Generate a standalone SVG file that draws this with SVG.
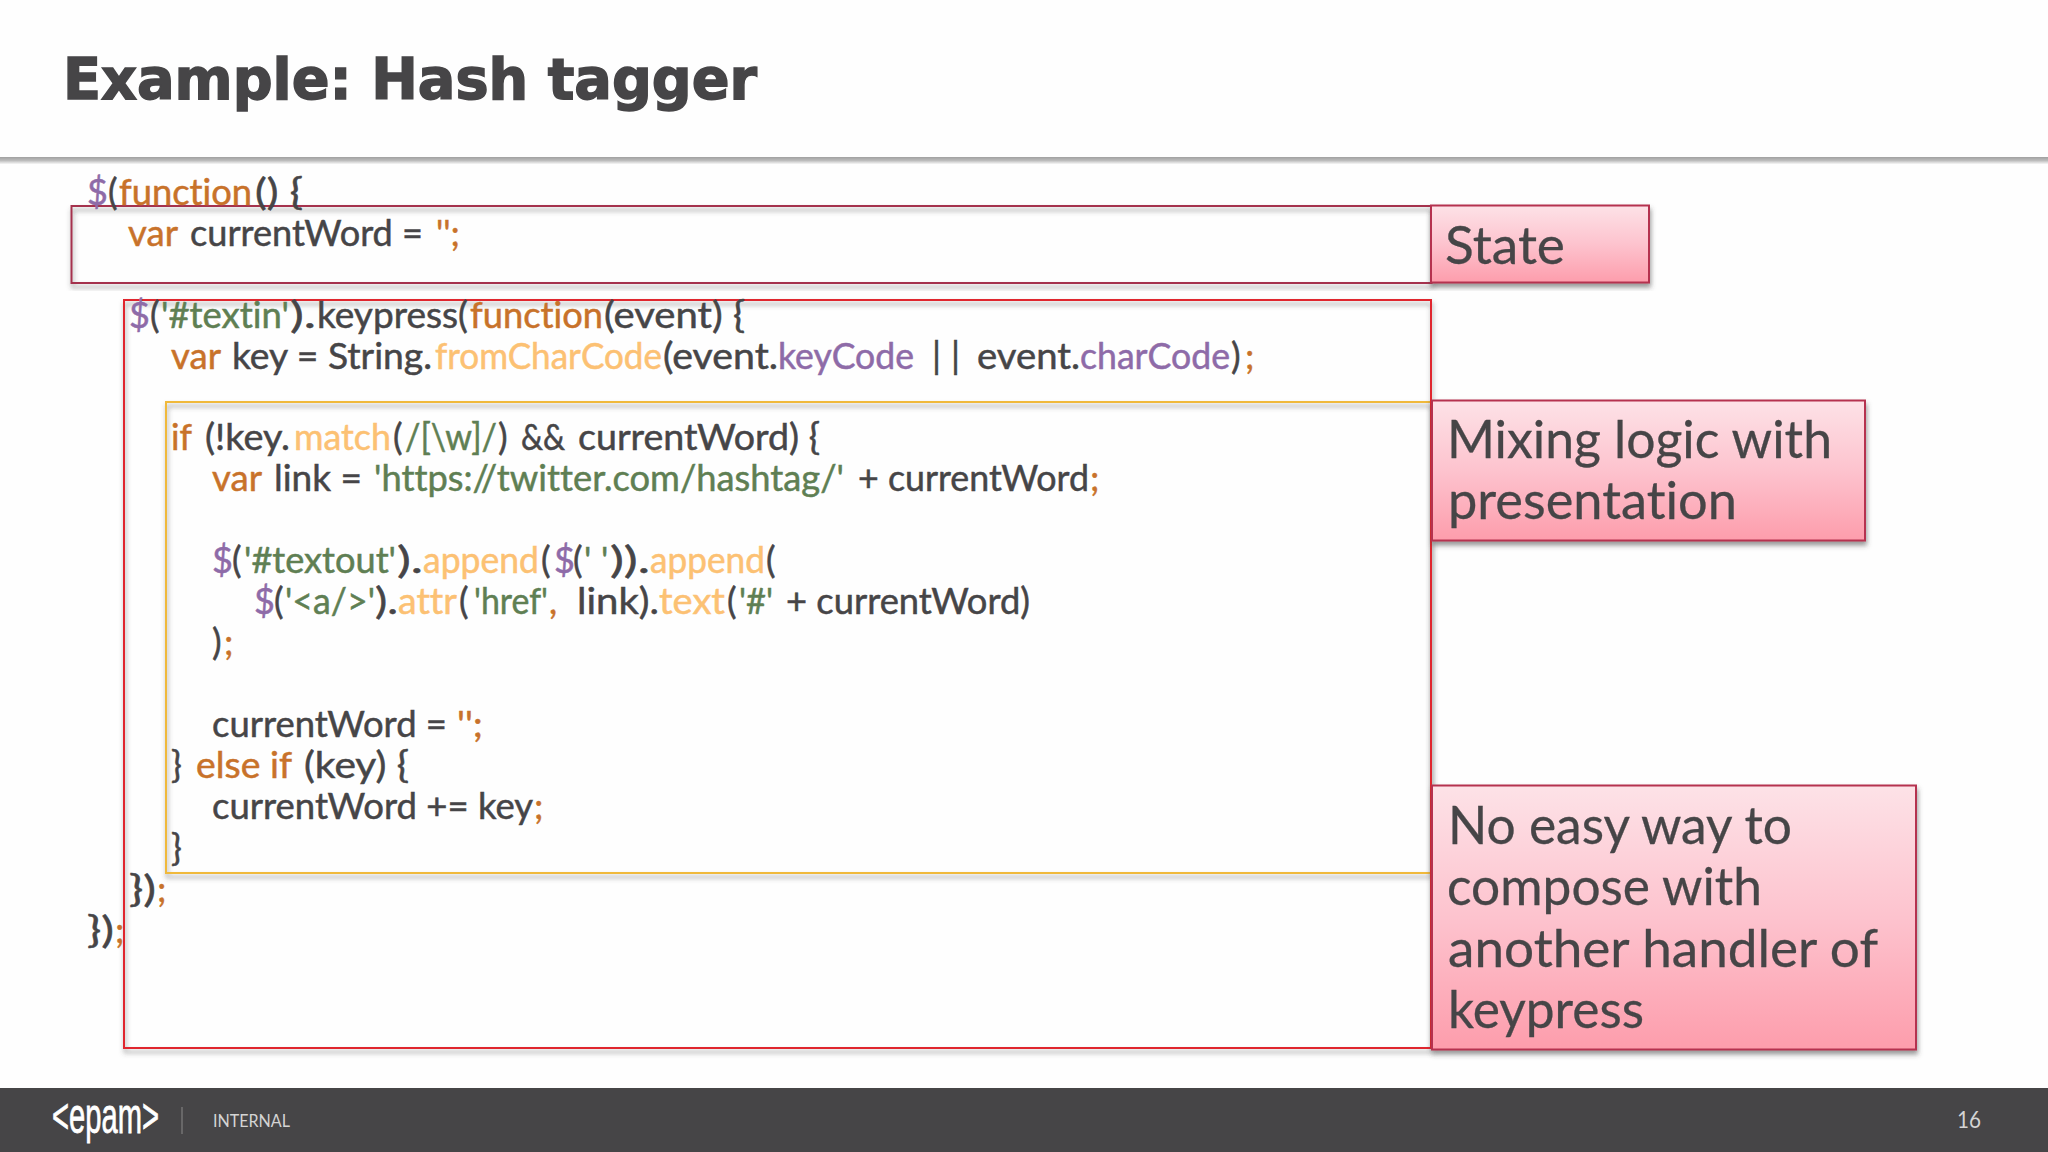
<svg xmlns="http://www.w3.org/2000/svg" width="2048" height="1152" viewBox="0 0 2048 1152">
<style>
text{font-family:"Lato","Noto Sans",sans-serif;fill:#464547;font-variant-ligatures:none}
.c text{font-size:36px;stroke:#464547;stroke-width:.5}
.c .k{fill:#c8722a;stroke:#c8722a}.c .f{fill:#fcc173;stroke:#fcc173}.c .s{fill:#5f7f53;stroke:#5f7f53}.c .p{fill:#8e6ba8;stroke:#8e6ba8}
.l{font-size:53px;stroke:#464547;stroke-width:.3}
.box{fill:none;stroke-width:2;filter:url(#sh)}
.lab{fill:url(#pink);stroke:#b5304f;stroke-width:2;filter:url(#sh)}
</style>
<defs>
<filter id="sh" x="-5%" y="-5%" width="110%" height="115%"><feDropShadow dx="1" dy="4" stdDeviation="2.500" flood-color="#444" flood-opacity=".55"/></filter>
<linearGradient id="pink" x1="0" y1="0" x2="0" y2="1"><stop offset="0" stop-color="#fde2e7"/><stop offset=".5" stop-color="#fdc3ce"/><stop offset="1" stop-color="#fd9dac"/></linearGradient>
<linearGradient id="rule" x1="0" y1="0" x2="0" y2="1"><stop offset="0" stop-color="#a0a0a0"/><stop offset=".5" stop-color="#bcbcbc"/><stop offset="1" stop-color="#f6f6f6"/></linearGradient>
</defs>
<rect width="2048" height="1152" fill="#fefefe"/>
<g id="header">
<rect x="0" y="157" width="2048" height="7" fill="url(#rule)"/>
<text x="63" y="99" font-size="57" font-weight="700" textLength="694" lengthAdjust="spacingAndGlyphs" style="font-family:'DejaVu Sans',sans-serif;stroke:#464547;stroke-width:1.500">Example: Hash tagger</text>
</g>
<g id="box-state"><rect class="box" x="71.500" y="206" width="1360" height="77" stroke="#a5324e"/></g>
<g id="box-logic"><rect class="box" x="166" y="402" width="1265" height="471" stroke="#f0b93a"/></g>
<g id="box-handler"><rect class="box" x="124" y="300" width="1307" height="748" stroke="#e0252d"/></g>
<g id="code" class="c">
<text x="87" y="205" class="p">$</text><text x="108" y="205">(</text><text x="119" y="205" class="k" textLength="133" lengthAdjust="spacingAndGlyphs">function</text><text x="255" y="205" textLength="48" lengthAdjust="spacingAndGlyphs">() {</text>
<text x="128" y="246" class="k" textLength="50" lengthAdjust="spacingAndGlyphs">var</text><text x="190" y="246" textLength="233" lengthAdjust="spacingAndGlyphs">currentWord =</text><text x="436" y="246" class="k" textLength="24" lengthAdjust="spacingAndGlyphs">'';</text>
<text x="129" y="328" class="p">$</text><text x="150" y="328">(</text><text x="161" y="328" class="s" textLength="128" lengthAdjust="spacingAndGlyphs">'#textin'</text><text x="290" y="328" textLength="26" lengthAdjust="spacingAndGlyphs">).</text><text x="317" y="328" textLength="151" lengthAdjust="spacingAndGlyphs">keypress(</text><text x="470" y="328" class="k" textLength="133" lengthAdjust="spacingAndGlyphs">function</text><text x="604" y="328" textLength="141" lengthAdjust="spacingAndGlyphs">(event) {</text>
<text x="171" y="369" class="k" textLength="50" lengthAdjust="spacingAndGlyphs">var</text><text x="232" y="369" textLength="200" lengthAdjust="spacingAndGlyphs">key = String.</text><text x="435" y="369" class="f" textLength="227" lengthAdjust="spacingAndGlyphs">fromCharCode</text><text x="663" y="369" textLength="115" lengthAdjust="spacingAndGlyphs">(event.</text><text x="778" y="369" class="p" textLength="136" lengthAdjust="spacingAndGlyphs">keyCode</text><text x="932" y="369" textLength="28" lengthAdjust="spacing">| |</text><text x="977" y="369" textLength="103" lengthAdjust="spacingAndGlyphs">event.</text><text x="1080" y="369" class="p" textLength="150" lengthAdjust="spacingAndGlyphs">charCode</text><text x="1231" y="369">)</text><text x="1245" y="369" class="k">;</text>
<text x="171" y="450" class="k" textLength="21" lengthAdjust="spacingAndGlyphs">if</text><text x="205" y="450" textLength="85" lengthAdjust="spacingAndGlyphs">(!key.</text><text x="294" y="450" class="f" textLength="97" lengthAdjust="spacingAndGlyphs">match</text><text x="393" y="450">(</text><text x="405" y="450" class="s" textLength="92" lengthAdjust="spacingAndGlyphs">/[\w]/</text><text x="498" y="450">)</text><text x="521" y="450" textLength="44" lengthAdjust="spacingAndGlyphs">&amp;&amp;</text><text x="578" y="450" textLength="242" lengthAdjust="spacingAndGlyphs">currentWord) {</text>
<text x="212" y="491" class="k" textLength="50" lengthAdjust="spacingAndGlyphs">var</text><text x="274" y="491" textLength="88" lengthAdjust="spacingAndGlyphs">link =</text><text x="374" y="491" class="s" textLength="470" lengthAdjust="spacingAndGlyphs">'https://twitter.com/hashtag/'</text><text x="858" y="491" textLength="231" lengthAdjust="spacingAndGlyphs">+ currentWord</text><text x="1090" y="491" class="k">;</text>
<text x="212" y="573" class="p">$</text><text x="232" y="573">(</text><text x="244" y="573" class="s" textLength="152" lengthAdjust="spacingAndGlyphs">'#textout'</text><text x="397" y="573" textLength="26" lengthAdjust="spacingAndGlyphs">).</text><text x="423" y="573" class="f" textLength="116" lengthAdjust="spacingAndGlyphs">append</text><text x="541" y="573">(</text><text x="554" y="573" class="p">$</text><text x="573" y="573">(</text><text x="584" y="573" class="s">'</text><text x="601" y="573" class="s">'</text><text x="610" y="573" textLength="40" lengthAdjust="spacingAndGlyphs">)).</text><text x="650" y="573" class="f" textLength="115" lengthAdjust="spacingAndGlyphs">append</text><text x="766" y="573">(</text>
<text x="254" y="614" class="p">$</text><text x="274" y="614">(</text><text x="285" y="614" class="s" textLength="90" lengthAdjust="spacingAndGlyphs">'&lt;a/&gt;'</text><text x="375" y="614" textLength="23" lengthAdjust="spacingAndGlyphs">).</text><text x="398" y="614" class="f" textLength="59" lengthAdjust="spacingAndGlyphs">attr</text><text x="459" y="614">(</text><text x="474" y="614" class="s" textLength="74" lengthAdjust="spacingAndGlyphs">'href'</text><text x="549" y="614" class="k">,</text><text x="577" y="614" textLength="82" lengthAdjust="spacingAndGlyphs">link).</text><text x="659" y="614" class="f" textLength="66" lengthAdjust="spacingAndGlyphs">text</text><text x="727" y="614">(</text><text x="739" y="614" class="s" textLength="34" lengthAdjust="spacingAndGlyphs">'#'</text><text x="786" y="614" textLength="244" lengthAdjust="spacingAndGlyphs">+ currentWord)</text>
<text x="212" y="655">)</text><text x="224" y="655" class="k">;</text>
<text x="212" y="737" textLength="235" lengthAdjust="spacingAndGlyphs">currentWord =</text><text x="457" y="737" class="k" textLength="26" lengthAdjust="spacingAndGlyphs">'';</text>
<text x="171" y="778">}</text><text x="196" y="778" class="k" textLength="96" lengthAdjust="spacingAndGlyphs">else if</text><text x="304" y="778" textLength="105" lengthAdjust="spacingAndGlyphs">(key) {</text>
<text x="212" y="819" textLength="321" lengthAdjust="spacingAndGlyphs">currentWord += key</text><text x="534" y="819" class="k">;</text>
<text x="171" y="861">}</text>
<text x="129" y="902" textLength="27" lengthAdjust="spacingAndGlyphs">})</text><text x="157" y="902" class="k">;</text>
<text x="87" y="943" textLength="27" lengthAdjust="spacingAndGlyphs">})</text><text x="115" y="943" class="k">;</text>
</g>
<g id="label-state"><rect class="lab" x="1431" y="205.500" width="218" height="77"/><text class="l" x="1445" y="264" textLength="120" lengthAdjust="spacingAndGlyphs">State</text></g>
<g id="label-mixing"><rect class="lab" x="1432" y="400.500" width="433" height="140"/><text class="l" x="1447" y="458" textLength="385" lengthAdjust="spacingAndGlyphs">Mixing logic with</text><text class="l" x="1448" y="519" textLength="289" lengthAdjust="spacingAndGlyphs">presentation</text></g>
<g id="label-compose"><rect class="lab" x="1432" y="785.500" width="484" height="264"/><text class="l" x="1448" y="844" textLength="344" lengthAdjust="spacingAndGlyphs">No easy way to</text><text class="l" x="1447" y="905" textLength="315" lengthAdjust="spacingAndGlyphs">compose with</text><text class="l" x="1448" y="967" textLength="430" lengthAdjust="spacingAndGlyphs">another handler of</text><text class="l" x="1448" y="1028" textLength="196" lengthAdjust="spacingAndGlyphs">keypress</text></g>
<g id="footer">
<rect x="0" y="1088" width="2048" height="64" fill="#464547"/>
<text x="52" y="1133" font-size="50" textLength="107" lengthAdjust="spacingAndGlyphs" style="font-family:'Liberation Sans',sans-serif;fill:#fff;stroke:#fff;stroke-width:.8">&lt;epam&gt;</text>
<rect x="181.500" y="1107" width="1" height="27" fill="#8a8a8a"/>
<text x="213" y="1127" font-size="17" textLength="77" lengthAdjust="spacingAndGlyphs" style="fill:#d4d4d4">INTERNAL</text>
<text x="1957" y="1128" font-size="23" textLength="24" lengthAdjust="spacingAndGlyphs" style="fill:#d4d4d4">16</text>
</g>
</svg>
